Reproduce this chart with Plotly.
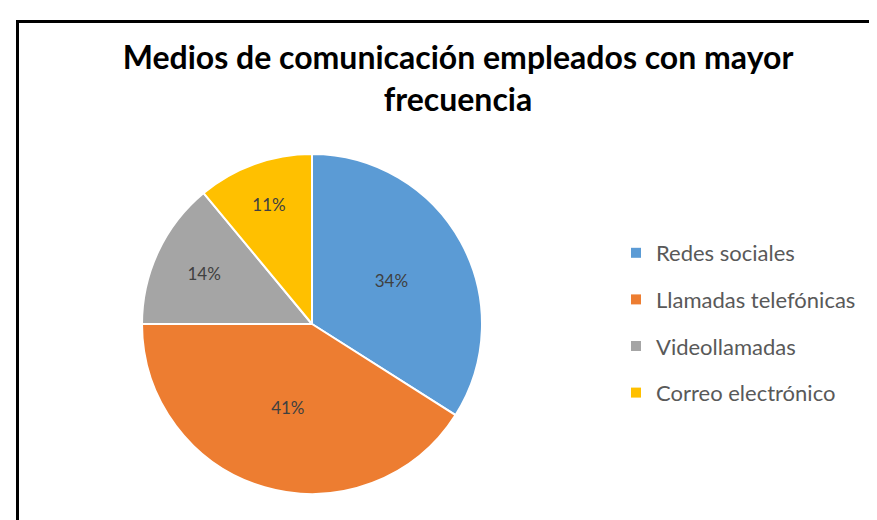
import plotly.graph_objects as go

categorias = ["Redes sociales", "Llamadas telefónicas", "Videollamadas", "Correo electrónico"]
porcentajes = [34, 41, 14, 11]
colores = ["#5B9BD5", "#ED7D31", "#A5A5A5", "#FFC000"]
titulo = "Medios de comunicación empleados con mayor<br>frecuencia"

W, H = 877, 520

fig = go.Figure()

# pie itself, legend is drawn with dummy traces so the row gap can be set
fig.add_trace(go.Pie(
    labels=categorias,
    values=porcentajes,
    sort=False,
    direction="clockwise",
    rotation=0,
    marker=dict(colors=colores, line=dict(color="white", width=2)),
    texttemplate="%{value}%",
    textposition="inside",
    insidetextorientation="horizontal",
    textfont=dict(family="Lato", size=17, color="#404040"),
    showlegend=False,
    hoverinfo="label+percent",
    domain=dict(x=[134 / W, 474 / W], y=[(H - 487) / H, (H - 145) / H]),
))

for i, (cat, col) in enumerate(zip(categorias, colores)):
    fig.add_trace(go.Scatter(
        x=[None], y=[None], mode="markers", name=cat,
        marker=dict(symbol="square", size=10, color=col),
        legendgroup="g%d" % i, showlegend=True,
    ))

fig.update_layout(
    width=W, height=H,
    margin={"r": 0, "t": 0, "l": 0, "b": 0},
    paper_bgcolor="white",
    plot_bgcolor="white",
    xaxis=dict(visible=False),
    yaxis=dict(visible=False),
    title=dict(
        text=titulo,
        font=dict(family="Lato", size=32, color="black", weight="bold"),
        x=450 / W, xanchor="center",
        y=1 - 61 / H, yanchor="top", yref="container",
    ),
    legend=dict(
        x=608 / W, xanchor="left",
        y=1 - 224 / H, yanchor="top",
        font=dict(family="Lato", size=22, color="#595959"),
        tracegroupgap=15,
        itemclick=False,
        bgcolor="rgba(0,0,0,0)",
    ),
    shapes=[
        # chart frame, cut off at right and bottom like in the original
        dict(type="rect", xref="paper", yref="paper",
             x0=9.5 / W, x1=1.05, y0=-0.05, y1=1 - 13.5 / H,
             line=dict(color="black", width=3)),
    ],
)

fig.write_html("out.html")
